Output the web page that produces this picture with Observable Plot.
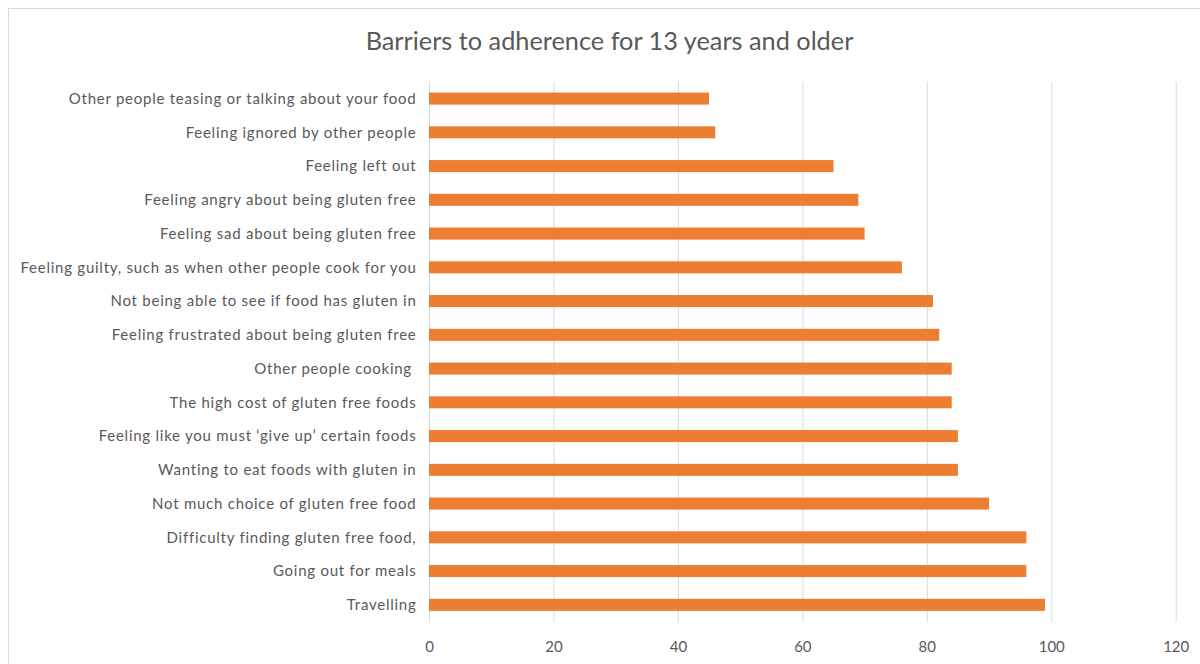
<!DOCTYPE html>
<html>
<head>
<meta charset="utf-8">
<script src="https://cdn.jsdelivr.net/npm/d3@7"></script>
<script src="https://cdn.jsdelivr.net/npm/@observablehq/plot@0.6"></script>
<style>
  html, body { margin: 0; padding: 0; background: #fff; overflow: hidden; }
  #frame { position: relative; width: 1200px; height: 664px; overflow: hidden; }
  #border { position: absolute; left: 8px; top: 8px; width: 1300px; height: 800px;
            border: 1px solid #d9d9d9; box-sizing: border-box; }
  #title { position: relative; height: 70px; box-sizing: border-box; padding-top: 25px;
           padding-left: 19px; text-align: center; font-family: Lato, "Open Sans", sans-serif;
           font-size: 25.3px; line-height: 30px; color: #595959; }
  #chart { position: relative; line-height: 0; }
  #chart svg { display: block; }
  #chart svg text { white-space: pre; }
  #chart svg g[aria-label="y-axis tick label"] text { letter-spacing: 0.75px; }
</style>
</head>
<body>
<div id="frame">
  <div id="border"></div>
  <div id="title">Barriers to adherence for 13 years and older</div>
  <div id="chart"></div>
</div>
<script>
// Barriers, listed top to bottom
const barriers = [
  "Other people teasing or talking about your food",
  "Feeling ignored by other people",
  "Feeling left out",
  "Feeling angry about being gluten free",
  "Feeling sad about being gluten free",
  "Feeling guilty, such as when other people cook for you",
  "Not being able to see if food has gluten in",
  "Feeling frustrated about being gluten free",
  "Other people cooking ",
  "The high cost of gluten free foods",
  "Feeling like you must \u2018give up\u2019 certain foods",
  "Wanting to eat foods with gluten in",
  "Not much choice of gluten free food",
  "Difficulty finding gluten free food,",
  "Going out for meals",
  "Travelling"
];

// Number of respondents for each barrier
const counts = [45, 46, 65, 69, 70, 76, 81, 82, 84, 84, 85, 85, 90, 96, 96, 99];

// Value axis ticks
const xTicks = [0, 20, 40, 60, 80, 100, 120];

const rows = barriers.map((barrier, i) => ({barrier, count: counts[i]}));

const chart = Plot.plot({
  width: 1200,
  height: 594,
  marginTop: 11.7,
  marginBottom: 42.3,
  marginLeft: 429,
  marginRight: 24.3,
  x: {domain: [0, 120]},
  y: {domain: barriers, paddingInner: 0.644, paddingOuter: 0.322, round: false},
  style: {fontFamily: "Lato, 'Open Sans', sans-serif", fontSize: "15px", color: "#595959", background: "transparent"},
  marks: [
    Plot.gridX(xTicks, {stroke: "#d9d9d9", strokeOpacity: 1, strokeWidth: 1}),
    Plot.barX(rows, {x: "count", y: "barrier", fill: "#ED7D31"}),
    Plot.axisX(xTicks, {tickSize: 0, tickPadding: 19, label: null}),
    Plot.axisY({tickSize: 0, tickPadding: 13, label: null})
  ]
});

document.getElementById("chart").appendChild(chart);
</script>
</body>
</html>
